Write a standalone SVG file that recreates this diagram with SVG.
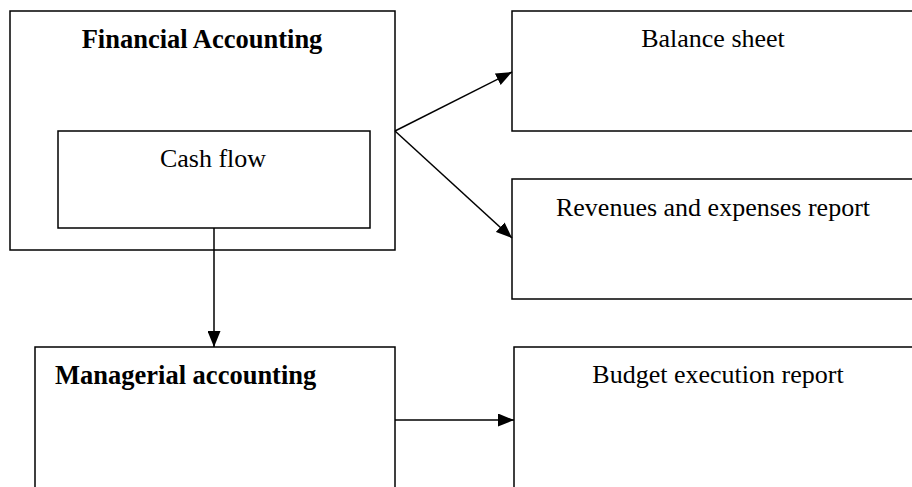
<svg xmlns="http://www.w3.org/2000/svg" width="912" height="487" viewBox="0 0 912 487">
<style>
.box{fill:#fff;stroke:#000;stroke-width:1.5}
.t{font-family:"Liberation Serif","Times New Roman",serif;font-size:26px;fill:#000}
.b{font-weight:bold;font-size:26.5px}
.c{stroke:#000;stroke-width:1.5;fill:none}
</style>
<defs>
<marker id="ah" viewBox="0 0 16 13" refX="16" refY="6.5" markerWidth="16" markerHeight="13" markerUnits="userSpaceOnUse" orient="auto">
<path d="M0,0 L16,6.5 L0,13 Z" fill="#000"/>
</marker>
</defs>
<rect width="912" height="487" fill="#fff"/>
<g id="financial">
<rect class="box" x="10" y="11" width="385" height="239"/>
<text class="t b" x="202" y="48" text-anchor="middle">Financial Accounting</text>
</g>
<g id="cashflow">
<rect class="box" x="58" y="131" width="312" height="97"/>
<text class="t" x="213" y="167" text-anchor="middle">Cash flow</text>
</g>
<g id="balance">
<rect class="box" x="512" y="11" width="410" height="120"/>
<text class="t" x="713" y="47" text-anchor="middle">Balance sheet</text>
</g>
<g id="revenues">
<rect class="box" x="512" y="179" width="410" height="120"/>
<text class="t" x="713" y="216" text-anchor="middle">Revenues and expenses report</text>
</g>
<g id="managerial">
<rect class="box" x="35" y="347" width="360" height="160"/>
<text class="t b" x="55" y="384">Managerial accounting</text>
</g>
<g id="budget">
<rect class="box" x="514" y="347" width="410" height="160"/>
<text class="t" x="718" y="383" text-anchor="middle">Budget execution report</text>
</g>
<g id="connectors">
<line class="c" x1="395" y1="131" x2="512" y2="72" marker-end="url(#ah)"/>
<line class="c" x1="395" y1="131" x2="512" y2="238" marker-end="url(#ah)"/>
<line class="c" x1="214" y1="228" x2="214" y2="347" marker-end="url(#ah)"/>
<line class="c" x1="395" y1="420" x2="514" y2="420" marker-end="url(#ah)"/>
</g>
</svg>
